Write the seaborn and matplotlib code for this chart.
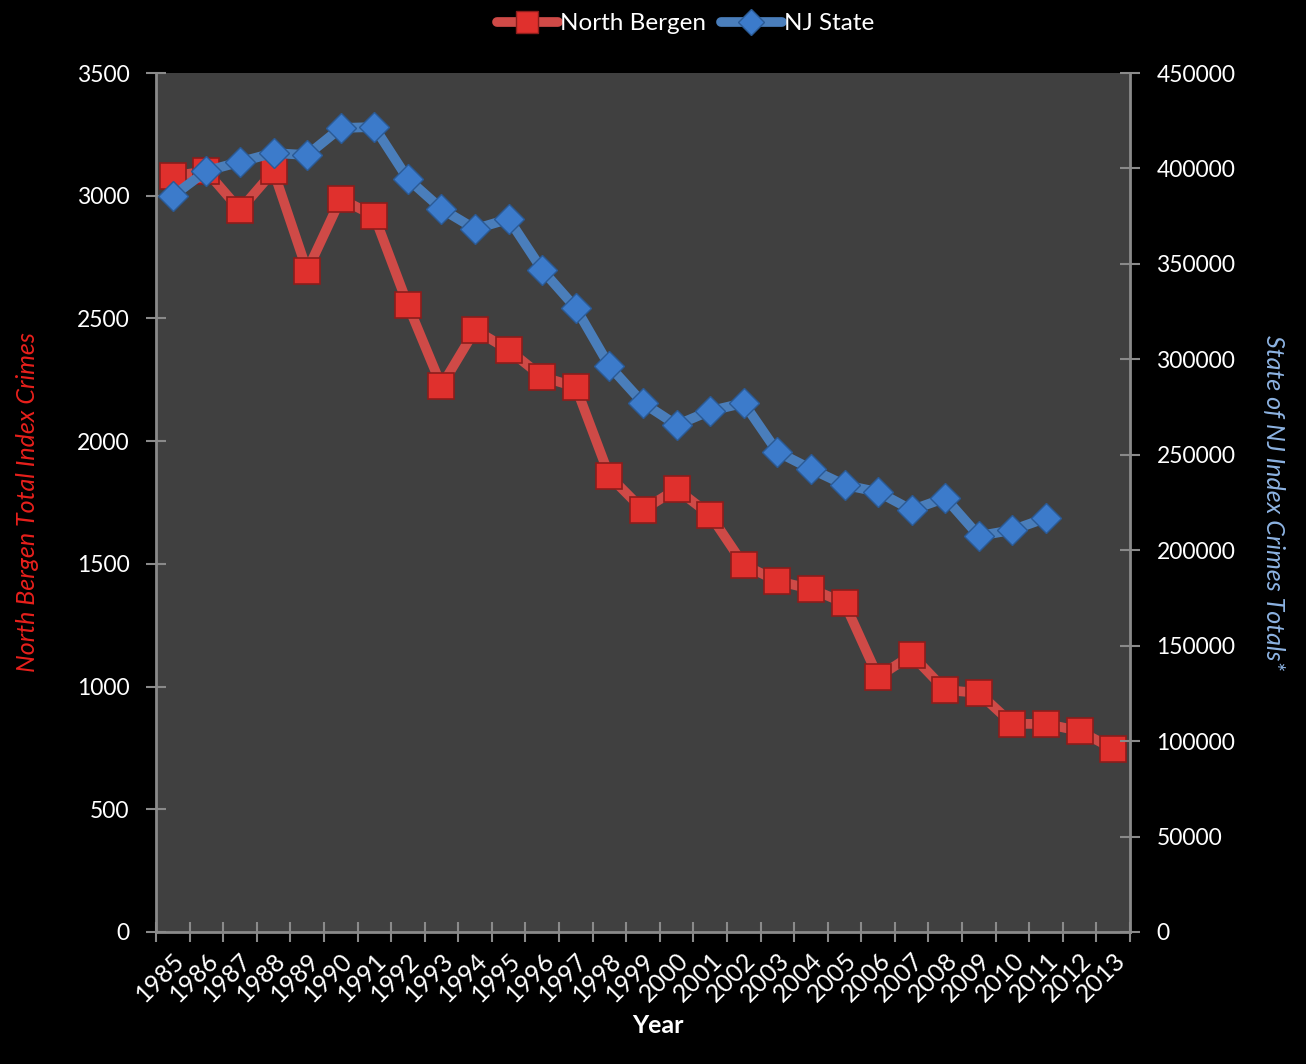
import numpy as np
import pandas as pd
import matplotlib
matplotlib.use("Agg")
import matplotlib.pyplot as plt
import seaborn as sns
from matplotlib.lines import Line2D

years = list(range(1985, 2014))
north_bergen = [3080, 3100, 2942, 3100, 2694, 2987, 2918, 2555, 2225, 2453, 2372, 2262,
                2221, 1858, 1720, 1805, 1699, 1496, 1430, 1398, 1341, 1039, 1129, 986,
                974, 848, 848, 819, 746]
nj_state = [385600, 398700, 403400, 408100, 407000, 421200, 421700, 394500, 378800,
            368300, 373500, 346800, 326900, 296500, 277100, 265600, 273000, 277100,
            251500, 242600, 234200, 230500, 221100, 227400, 207500, 210600, 216900,
            np.nan, np.nan]

df = pd.DataFrame({"Year": years, "North Bergen": north_bergen, "NJ State": nj_state})

sns.set_theme(style="dark")
plt.rcParams["font.family"] = ["Lato", "DejaVu Sans"]

fig = plt.figure(figsize=(13.06, 10.64), dpi=100, facecolor="black")
ax = fig.add_axes([156/1306, 1-932/1064, (1130-156)/1306, (932-73)/1064])
ax.set_facecolor("#404040")
ax2 = ax.twinx()

red_line = "#cf4a47"
red_mk = "#e0302d"
blue_line = "#4a7ebb"
blue_mk = "#3c7bcb"

sns.lineplot(data=df, x="Year", y="North Bergen", ax=ax, color=red_line, lw=7,
             marker="s", markersize=19, markerfacecolor=red_mk,
             markeredgecolor="#8c1d1b", markeredgewidth=1.2, zorder=3)
sns.lineplot(data=df, x="Year", y="NJ State", ax=ax2, color=blue_line, lw=7,
             marker="D", markersize=15, markerfacecolor=blue_mk,
             markeredgecolor="#2a5a95", markeredgewidth=1.0, zorder=4)

ax.set_xlim(1984.5, 2013.5)
ax.set_ylim(0, 3500)
ax2.set_ylim(0, 450000)
ax.set_yticks(np.arange(0, 3501, 500))
ax2.set_yticks(np.arange(0, 450001, 50000))

ax.set_xticks(years)
ax.set_xticklabels([str(y) for y in years], rotation=45, ha="right",
                   rotation_mode="anchor", color="white", fontsize=18)
ax.set_xticks(np.arange(1984.5, 2014, 1.0), minor=True)
ax.tick_params(axis="x", which="major", length=0, pad=12)
ax.tick_params(axis="x", which="minor", length=14, width=1.5, color="#8a8a8a",
               direction="inout", bottom=True)
ax.tick_params(axis="y", which="major", length=14, width=1.5, color="#8a8a8a",
               direction="inout", labelcolor="white", labelsize=16.5, pad=12, left=True)
ax2.tick_params(axis="y", which="major", length=14, width=1.5, color="#8a8a8a",
                direction="inout", labelcolor="white", labelsize=16.5, pad=12, right=True)

for a in (ax, ax2):
    a.grid(False)
    a.spines["top"].set_visible(False)
    for s in ("left", "right", "bottom"):
        a.spines[s].set_color("#8a8a8a")
        a.spines[s].set_linewidth(2)
ax.spines["right"].set_visible(False)
ax2.spines["left"].set_visible(False)
ax2.spines["bottom"].set_visible(False)

ax.set_xlabel("Year", color="white", fontsize=18, fontweight="bold", labelpad=6)
ax.xaxis.set_label_coords(0.515, -0.095)
ax.set_ylabel("North Bergen Total Index Crimes", color="#e8201c", fontsize=18,
              fontstyle="italic", labelpad=27)
ax2.set_ylabel("State of NJ Index Crimes Totals*", color="#8db3e2", fontsize=18,
               fontstyle="italic", rotation=-90, labelpad=36)

handles = [
    Line2D([], [], color=red_line, lw=7, marker="s", markersize=16,
           markerfacecolor=red_mk, markeredgecolor="#8c1d1b"),
    Line2D([], [], color=blue_line, lw=7, marker="D", markersize=13,
           markerfacecolor=blue_mk, markeredgecolor="#2a5a95"),
]
leg = fig.legend(handles, ["North Bergen", "NJ State"], loc="upper center",
                 bbox_to_anchor=(0.525, 1.008), ncol=2, frameon=False, fontsize=17.5,
                 handlelength=2.5, handletextpad=0.1, columnspacing=0.6, labelcolor="white")

fig.savefig("out.png", dpi=100, facecolor="black")
